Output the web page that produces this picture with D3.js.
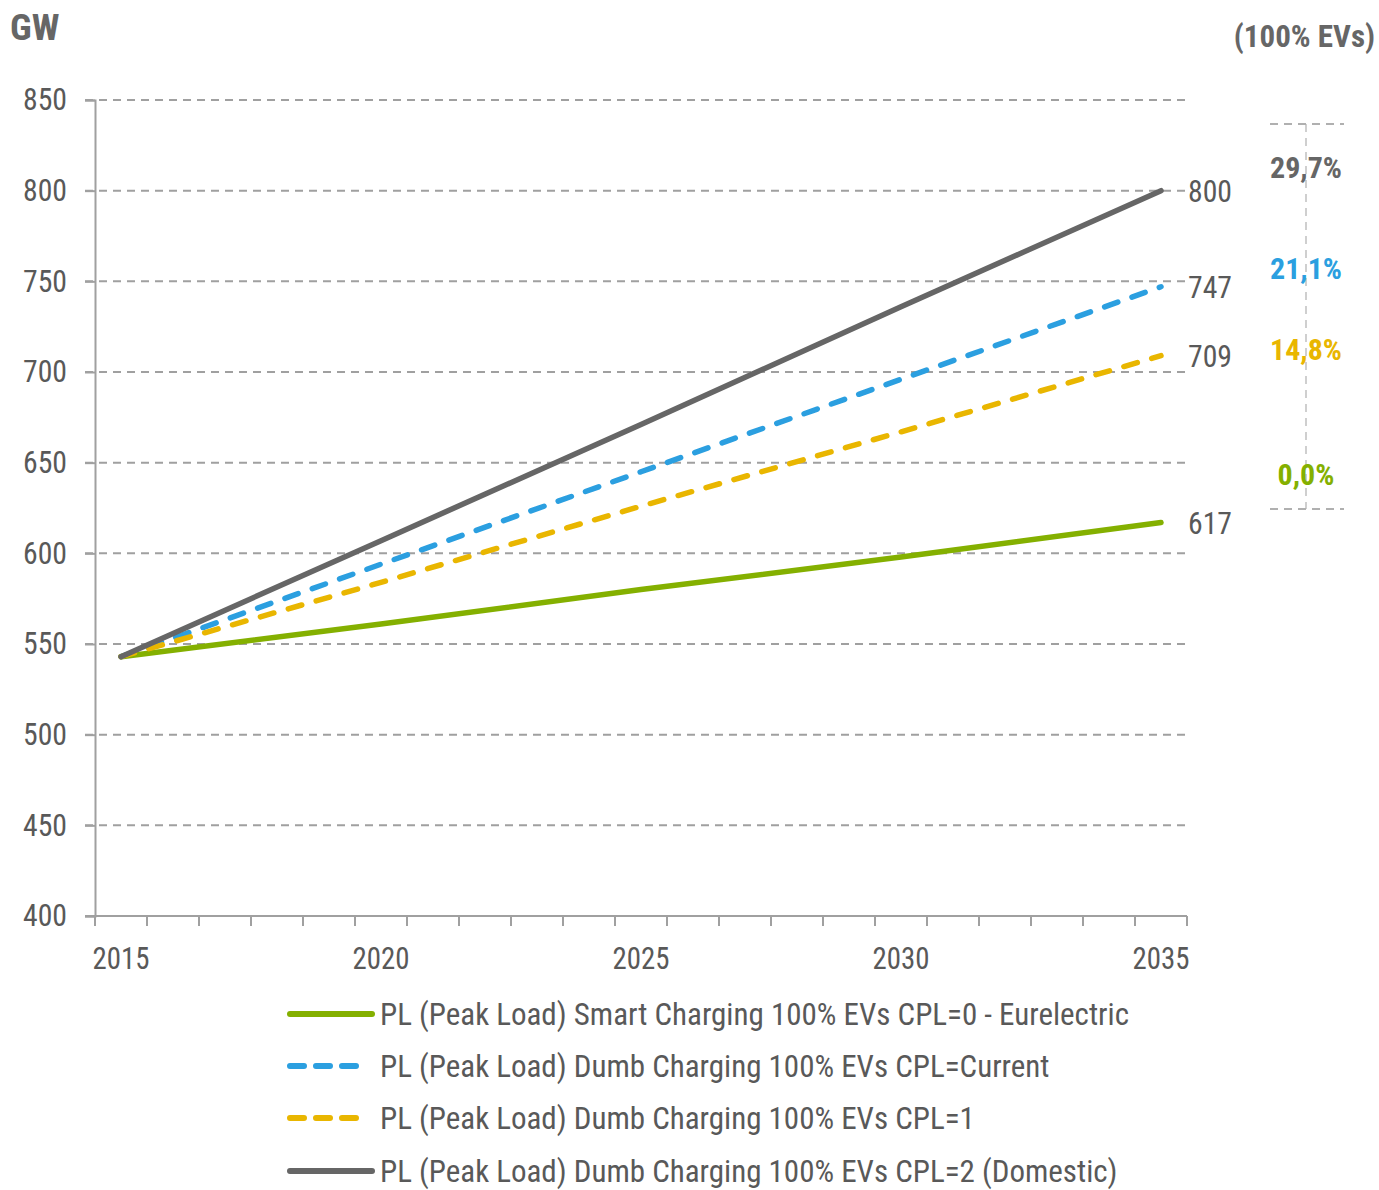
<!DOCTYPE html>
<html><head><meta charset="utf-8">
<script src="https://cdn.jsdelivr.net/npm/d3@7"></script>
<style>
body{margin:0;background:#fff;}
svg text{font-family:"Liberation Sans Narrow","Arial Narrow","Roboto Condensed",sans-serif;}
</style></head>
<body><svg id="c" width="1379" height="1190"></svg>
<script>
const years = d3.range(2015, 2036);
const labelYears = [2015, 2020, 2025, 2030, 2035];
const yTicks = [400, 450, 500, 550, 600, 650, 700, 750, 800, 850];
const smartCPL0 = [543, 561, 580, 598, 617];
const dumbCurrent = [543, 594, 645, 696, 747];
const dumbCPL1 = [543, 584, 626, 667, 709];
const dumbCPL2 = [543, 607, 671, 736, 800];
const endLabels = ["617", "747", "709", "800"];
const pctLabels = ["0,0%", "21,1%", "14,8%", "29,7%"];
const seriesNames = [
  "PL (Peak Load) Smart Charging 100% EVs CPL=0 - Eurelectric",
  "PL (Peak Load) Dumb Charging 100% EVs CPL=Current",
  "PL (Peak Load) Dumb Charging 100% EVs CPL=1",
  "PL (Peak Load) Dumb Charging 100% EVs CPL=2 (Domestic)"
];
const colors = ["#84b000", "#2b9fe0", "#e9b600", "#666666"];
const dashes = [null, "14,15", "14,15", null];
const pctY = [474, 268, 349, 167];

const series = [smartCPL0, dumbCurrent, dumbCPL1, dumbCPL2];

const svg = d3.select("#c");
const L = 95, R = 1187, T = 100, B = 916;
const x = d3.scaleBand().domain(years).range([L, R]).padding(0);
const y = d3.scaleLinear().domain([400, 850]).range([B, T]);
const grey = "#595959";

// gridlines
svg.append("g").selectAll("line").data(yTicks.filter(d => d > 400)).join("line")
  .attr("x1", 85).attr("x2", R).attr("y1", d => y(d)).attr("y2", d => y(d))
  .attr("stroke", "#a0a0a0").attr("stroke-width", 2).attr("stroke-dasharray", "8,6");

// y axis
const yAxis = svg.append("g").attr("transform", `translate(${L},0)`)
  .call(d3.axisLeft(y).tickValues(yTicks).tickSize(10).tickPadding(18));
yAxis.select(".domain").attr("stroke", "#a0a0a0").attr("stroke-width", 2);
yAxis.selectAll(".tick line").attr("stroke", "#a0a0a0").attr("stroke-width", 2);
yAxis.selectAll(".tick text").attr("font-size", 31).attr("fill", grey)
  .attr("textLength", 44).attr("lengthAdjust", "spacingAndGlyphs")
  .style("font-family", '"Liberation Sans Narrow","Roboto Condensed",sans-serif');

// x axis
svg.append("line").attr("x1", 85).attr("x2", R).attr("y1", B).attr("y2", B)
  .attr("stroke", "#a0a0a0").attr("stroke-width", 2);
const edges = years.map(d => x(d)).concat([R]);
svg.append("g").selectAll("line").data(edges).join("line")
  .attr("x1", d => d).attr("x2", d => d).attr("y1", B).attr("y2", B + 10)
  .attr("stroke", "#a0a0a0").attr("stroke-width", 2);
svg.append("g").selectAll("text").data(labelYears).join("text")
  .attr("x", d => x(d) + x.bandwidth() / 2).attr("y", 969)
  .attr("text-anchor", "middle").attr("font-size", 31).attr("fill", grey)
  .attr("textLength", 57).attr("lengthAdjust", "spacingAndGlyphs")
  .text(d => d);

// lines
const line = d3.line().x((d, i) => x(labelYears[i]) + x.bandwidth() / 2).y(d => y(d));
series.forEach((s, i) => {
  svg.append("path").datum(s).attr("d", line)
    .attr("fill", "none").attr("stroke", colors[i]).attr("stroke-width", 5.5)
    .attr("stroke-linecap", "round")
    .attr("stroke-dasharray", dashes[i]);
});

// end labels
series.forEach((s, i) => {
  svg.append("text").attr("x", 1188).attr("y", y(s[s.length - 1]) + 11)
    .attr("font-size", 31).attr("fill", grey)
    .attr("textLength", 44).attr("lengthAdjust", "spacingAndGlyphs")
    .text(endLabels[i]);
});

// right bracket
svg.append("line").attr("x1", 1306).attr("x2", 1306).attr("y1", 124).attr("y2", 509)
  .attr("stroke", "#c0c0c0").attr("stroke-width", 1.5).attr("stroke-dasharray", "8,6");
[124, 509].forEach(yy => svg.append("line").attr("x1", 1270).attr("x2", 1344)
  .attr("y1", yy).attr("y2", yy).attr("stroke", "#b0b0b0").attr("stroke-width", 2)
  .attr("stroke-dasharray", "8,6"));
pctLabels.forEach((p, i) => {
  svg.append("text").attr("x", 1306).attr("y", pctY[i] + 11).attr("text-anchor", "middle")
    .attr("font-size", 30).attr("font-weight", "bold").attr("fill", colors[i]).text(p);
});

// titles
svg.append("text").attr("x", 10).attr("y", 40).attr("font-size", 37).attr("font-weight", "bold")
  .attr("fill", "#666").text("GW");
svg.append("text").attr("x", 1375).attr("y", 47).attr("text-anchor", "end").attr("font-size", 31)
  .attr("font-weight", "bold").attr("fill", "#666").text("(100% EVs)");

// legend
const legY = [1014, 1066, 1118, 1171];
const leg = svg.append("g");
seriesNames.forEach((n, i) => {
  leg.append("line").attr("x1", 290).attr("x2", i === 1 || i === 2 ? 362 : 372)
    .attr("y1", legY[i]).attr("y2", legY[i])
    .attr("stroke", colors[i]).attr("stroke-width", 6).attr("stroke-linecap", "round")
    .attr("stroke-dasharray", i === 1 || i === 2 ? "14,12" : null);
  leg.append("text").attr("x", 380).attr("y", legY[i] + 11).attr("font-size", 31)
    .attr("fill", grey).text(n);
});
</script></body></html>
